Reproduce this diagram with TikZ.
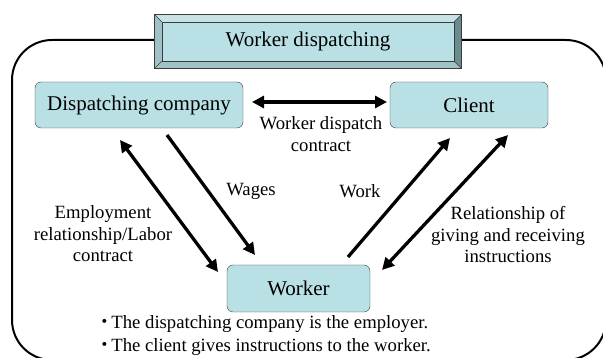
\documentclass[tikz,border=0pt]{standalone}
\usepackage{fontspec}
\setmainfont{Liberation Serif}
\newfontfamily\cjk{Noto Sans CJK JP}
\usetikzlibrary{arrows.meta,calc,positioning}
\definecolor{boxfill}{RGB}{185,224,228}
\definecolor{boxline}{RGB}{60,60,60}
\definecolor{bevellight}{RGB}{200,226,229}
\definecolor{bevelmid}{RGB}{160,194,198}
\definecolor{beveldark}{RGB}{105,140,144}
\newcommand{\boxfont}{\fontsize{21}{25}\selectfont}
\newcommand{\labelfont}{\fontsize{18.7}{21.5}\selectfont}
\tikzset{
  party/.style={draw=boxline, fill=boxfill, rounded corners=6pt, minimum height=46pt, font=\boxfont, inner sep=0pt},
  title face/.style={fill=boxfill, minimum width=292pt, minimum height=39pt, font=\boxfont, inner sep=0pt},
  link/.style={line width=3.3pt, -{Triangle[length=12pt,width=12pt]}},
  twoway/.style={line width=3.3pt, {Triangle[length=12pt,width=12pt]}-{Triangle[length=12pt,width=12pt]}},
  note/.style={font=\labelfont, align=center, inner sep=0pt},
}

\begin{document}
\begin{tikzpicture}[x=1pt, y=-1pt]
  \useasboundingbox (0,0) rectangle (603,358);

  % Outer frame
  \begin{scope}
    \clip (0,0) rectangle (603,358);
    \draw[line width=2pt, rounded corners=40pt] (12,40) rectangle (606,360);
  \end{scope}

  % Title with bevel
  \node[title face] (title) at (308,41.5) {Worker dispatching};
  \coordinate (tnw) at ([shift={(-7,-7)}]title.north west);
  \coordinate (tne) at ([shift={(7,-7)}]title.north east);
  \coordinate (tsw) at ([shift={(-7,7)}]title.south west);
  \coordinate (tse) at ([shift={(7,7)}]title.south east);
  \fill[bevellight] (tnw) -- (tne) -- (title.north east) -- (title.north west) -- cycle;
  \fill[bevelmid] (tnw) -- (title.north west) -- (title.south west) -- (tsw) -- cycle;
  \fill[beveldark] (tne) -- (tse) -- (title.south east) -- (title.north east) -- cycle;
  \fill[bevelmid] (tsw) -- (title.south west) -- (title.south east) -- (tse) -- cycle;
  \draw[boxline, thin] (tnw) -- (title.north west) (tne) -- (title.north east)
    (tsw) -- (title.south west) (tse) -- (title.south east);
  \draw[boxline, thin] (title.north west) rectangle (title.south east);
  \draw[boxline, thick] (tnw) rectangle (tse);

  % Parties
  \node[party, minimum width=208pt] (company) at (139,105) {Dispatching company};
  \node[party, minimum width=158pt] (client) at (469,105) {Client};
  \node[party, minimum width=143pt, minimum height=47pt] (worker) at (298.5,288.5) {Worker};

  % Arrow ends
  \coordinate (dc-l) at (252,102);
  \coordinate (dc-r) at (387,102);
  \coordinate (emp-a) at (120,140);
  \coordinate (emp-b) at (218,272);
  \coordinate (wage-a) at (167,135);
  \coordinate (wage-b) at (255,255);
  \coordinate (work-a) at (348,257);
  \coordinate (work-b) at (450,138);
  \coordinate (ins-a) at (508,135);
  \coordinate (ins-b) at (382,270);

  % Arrows
  \draw[twoway] (dc-l) -- (dc-r);
  \draw[twoway] (emp-a) -- (emp-b);
  \draw[link] (wage-a) -- (wage-b);
  \draw[link] (work-a) -- (work-b);
  \draw[twoway] (ins-a) -- (ins-b);

  % Labels
  \node[note] (dc-text) at (321,134) {Worker dispatch\\contract};
  \node[note] (wage-text) at (251,191) {Wages};
  \node[note] (work-text) at (360,191) {Work};
  \node[note] (emp-text) at (103,234) {Employment\\relationship/Labor\\contract};
  \node[note] (ins-text) at (508,235) {Relationship of\\giving and receiving\\instructions};

  % Notes below
  \node[note, anchor=base west] (fact1) at (95.5,329) {{\cjk ・}\kern-3pt The dispatching company is the employer.};
  \node[note, anchor=base west] (fact2) at (95.5,352) {{\cjk ・}\kern-3pt The client gives instructions to the worker.};
\end{tikzpicture}
\end{document}
